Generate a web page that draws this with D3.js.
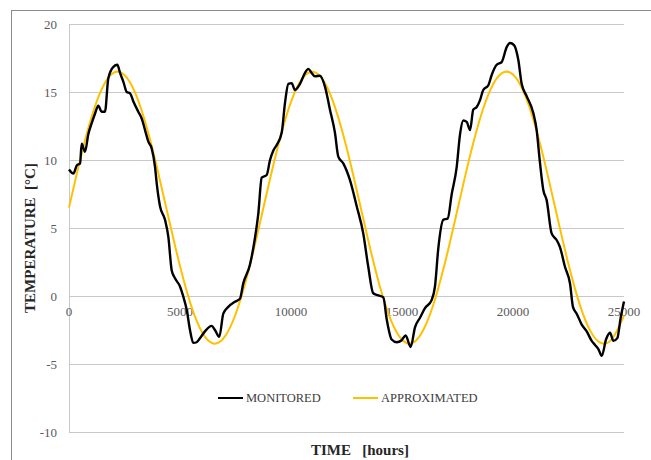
<!DOCTYPE html>
<html>
<head>
<meta charset="utf-8">
<script src="https://cdn.jsdelivr.net/npm/d3@7"></script>
<style>
  body { margin: 0; background: #fff; }
  text { font-family: "Liberation Serif", "Times New Roman", serif; }
</style>
</head>
<body>
<svg id="chart" width="651" height="460"></svg>
<script>
// ---- data ----
const yTicks = [-10, -5, 0, 5, 10, 15, 20];
const xTicks = [0, 5000, 10000, 15000, 20000, 25000];

const monitoredHours = [0,200,350,500,570,720,870,1020,1170,1320,1470,1620,1770,2000,2180,2300,2450,2600,2750,2900,3120,3275,3425,3575,3725,3875,3950,4100,4325,4475,4625,4775,5000,5150,5300,5450,5600,5750,5900,6125,6425,6575,6770,6950,7175,7475,7700,7850,8150,8380,8530,8680,8905,9055,9205,9355,9580,9730,9880,10030,10180,10405,10630,10780,10930,11080,11305,11530,11755,11980,12130,12355,12660,12960,13255,13480,13705,13930,14160,14310,14535,14760,14985,15165,15390,15585,15810,16035,16335,16485,16635,16860,17060,17240,17465,17615,17760,17915,18065,18210,18365,18515,18660,18890,19040,19265,19490,19715,19865,20045,20240,20390,20615,20915,21065,21215,21365,21515,21740,21970,22115,22340,22570,22700,22870,23095,23320,23545,23695,23845,24000,24190,24370,24520,24700,24850,25000];
const monitoredTemp = [9.3,9.0,9.6,9.75,11.2,10.6,11.9,12.7,13.4,14.0,13.55,13.55,16.0,16.85,17.0,16.4,15.75,15.0,14.9,14.3,13.55,13.05,12.2,11.35,10.85,9.5,8.3,6.6,5.6,4.35,1.9,1.3,0.7,-0.05,-1.0,-2.5,-3.45,-3.4,-3.1,-2.6,-2.2,-2.5,-3.0,-1.3,-0.8,-0.42,-0.2,0.93,2.3,4.3,6.1,8.7,8.9,10.0,10.7,11.1,12.0,14.2,15.6,15.65,15.15,15.6,16.4,16.7,16.4,16.15,16.2,15.4,13.7,12.0,10.25,9.75,8.5,6.6,4.6,2.15,0.2,0.05,-0.1,-1.7,-3.2,-3.4,-3.25,-2.9,-3.75,-2.3,-1.6,-0.9,-0.3,0.7,3.5,5.6,5.7,7.5,9.5,11.9,12.9,12.8,12.2,13.7,13.9,14.4,15.15,15.5,16.25,17.0,17.2,18.3,18.6,18.45,17.35,15.6,14.7,13.45,12.2,9.8,7.8,7.05,4.6,4.1,3.6,2.15,0.9,-0.8,-1.3,-2.1,-2.6,-3.3,-3.6,-3.9,-4.4,-3.2,-2.7,-3.3,-3.1,-1.6,-0.4];

const approxHours = [0,500,1000,1500,2000,2500,3000,3500,4000,4500,5000,5500,6000,6500,7000,7500,8000,8500,9000,9500,10000,10500,11000,11500,12000,12500,13000,13500,14000,14500,15000,15500,16000,16500,17000,17500,18000,18500,19000,19500,20000,20500,21000,21500,22000,22500,23000,23500,24000,24500,25000];
const approxTemp = [6.5,10.01,13.07,15.3,16.41,16.25,14.86,12.4,9.19,5.64,2.2,-0.7,-2.68,-3.49,-3.03,-1.36,1.32,4.65,8.21,11.56,14.27,15.98,16.49,15.73,13.8,10.93,7.5,3.95,0.72,-1.78,-3.22,-3.43,-2.37,-0.18,2.86,6.36,9.88,12.96,15.23,16.39,16.28,14.94,12.52,9.33,5.78,2.33,-0.6,-2.62,-3.48,-3.07,-1.44];

const seriesNames = ["MONITORED", "APPROXIMATED"];
const seriesColors = ["#000000", "#FFC000"];

// ---- chart ----
const svg = d3.select("#chart");
const plotLeft = 69, plotRight = 624, plotTop = 24, plotBottom = 432;

svg.append("rect").attr("x", 11.5).attr("y", 10.5).attr("width", 700).attr("height", 500)
  .attr("fill", "#fff").attr("stroke", "#8c8c8c").attr("stroke-width", 1);

const x = d3.scaleLinear().domain([0, 25000]).range([plotLeft, plotRight]);
const y = d3.scaleLinear().domain([-10, 20]).range([plotBottom, plotTop]);

// gridlines
svg.append("g").selectAll("line").data(yTicks).join("line")
  .attr("x1", plotLeft).attr("x2", plotRight)
  .attr("y1", d => Math.round(y(d)) + 0.5).attr("y2", d => Math.round(y(d)) + 0.5)
  .attr("stroke", "#c8c8c8").attr("stroke-width", 1);

// vertical axis line
svg.append("line").attr("x1", plotLeft + 0.5).attr("x2", plotLeft + 0.5)
  .attr("y1", plotTop).attr("y2", plotBottom + 0.5)
  .attr("stroke", "#c8c8c8").attr("stroke-width", 1);

// y tick labels
svg.append("g").selectAll("text").data(yTicks).join("text")
  .attr("x", 57).attr("y", d => y(d) + 4.5)
  .attr("text-anchor", "end").attr("font-size", 13).attr("fill", "#595959")
  .text(d => d);

// x tick labels (placed beneath the zero line)
svg.append("g").selectAll("text").data(xTicks).join("text")
  .attr("x", d => x(d)).attr("y", y(0) + 20)
  .attr("text-anchor", "middle").attr("font-size", 13).attr("fill", "#595959")
  .text(d => d);

// lines
const approxData = approxHours.map((h, i) => [h, approxTemp[i]]);
const monData = monitoredHours.map((h, i) => [h, monitoredTemp[i]]);

svg.append("path").datum(approxData)
  .attr("fill", "none").attr("stroke", seriesColors[1]).attr("stroke-width", 2)
  .attr("d", d3.line().x(d => x(d[0])).y(d => y(d[1])).curve(d3.curveNatural));

svg.append("path").datum(monData)
  .attr("fill", "none").attr("stroke", seriesColors[0]).attr("stroke-width", 2.4)
  .attr("stroke-linejoin", "round")
  .attr("d", d3.line().x(d => x(d[0])).y(d => y(d[1])).curve(d3.curveMonotoneX));

// legend
const legendX = [218, 353];
seriesNames.forEach((name, i) => {
  svg.append("line").attr("x1", legendX[i]).attr("x2", legendX[i] + 25)
    .attr("y1", 398).attr("y2", 398)
    .attr("stroke", seriesColors[i]).attr("stroke-width", 2);
  svg.append("text").attr("x", legendX[i] + 28).attr("y", 402)
    .attr("font-size", 12.5).attr("fill", "#404040").text(name);
});

// axis titles
svg.append("text").attr("x", 360).attr("y", 455)
  .attr("text-anchor", "middle").attr("font-size", 15).attr("font-weight", "bold")
  .attr("fill", "#262626").style("white-space", "pre").text("TIME   [hours]");

svg.append("text").attr("transform", "translate(35,238) rotate(-90)")
  .attr("text-anchor", "middle").attr("font-size", 15).attr("font-weight", "bold")
  .attr("fill", "#262626").style("white-space", "pre").text("TEMPERATURE  [°C]");
</script>
</body>
</html>
